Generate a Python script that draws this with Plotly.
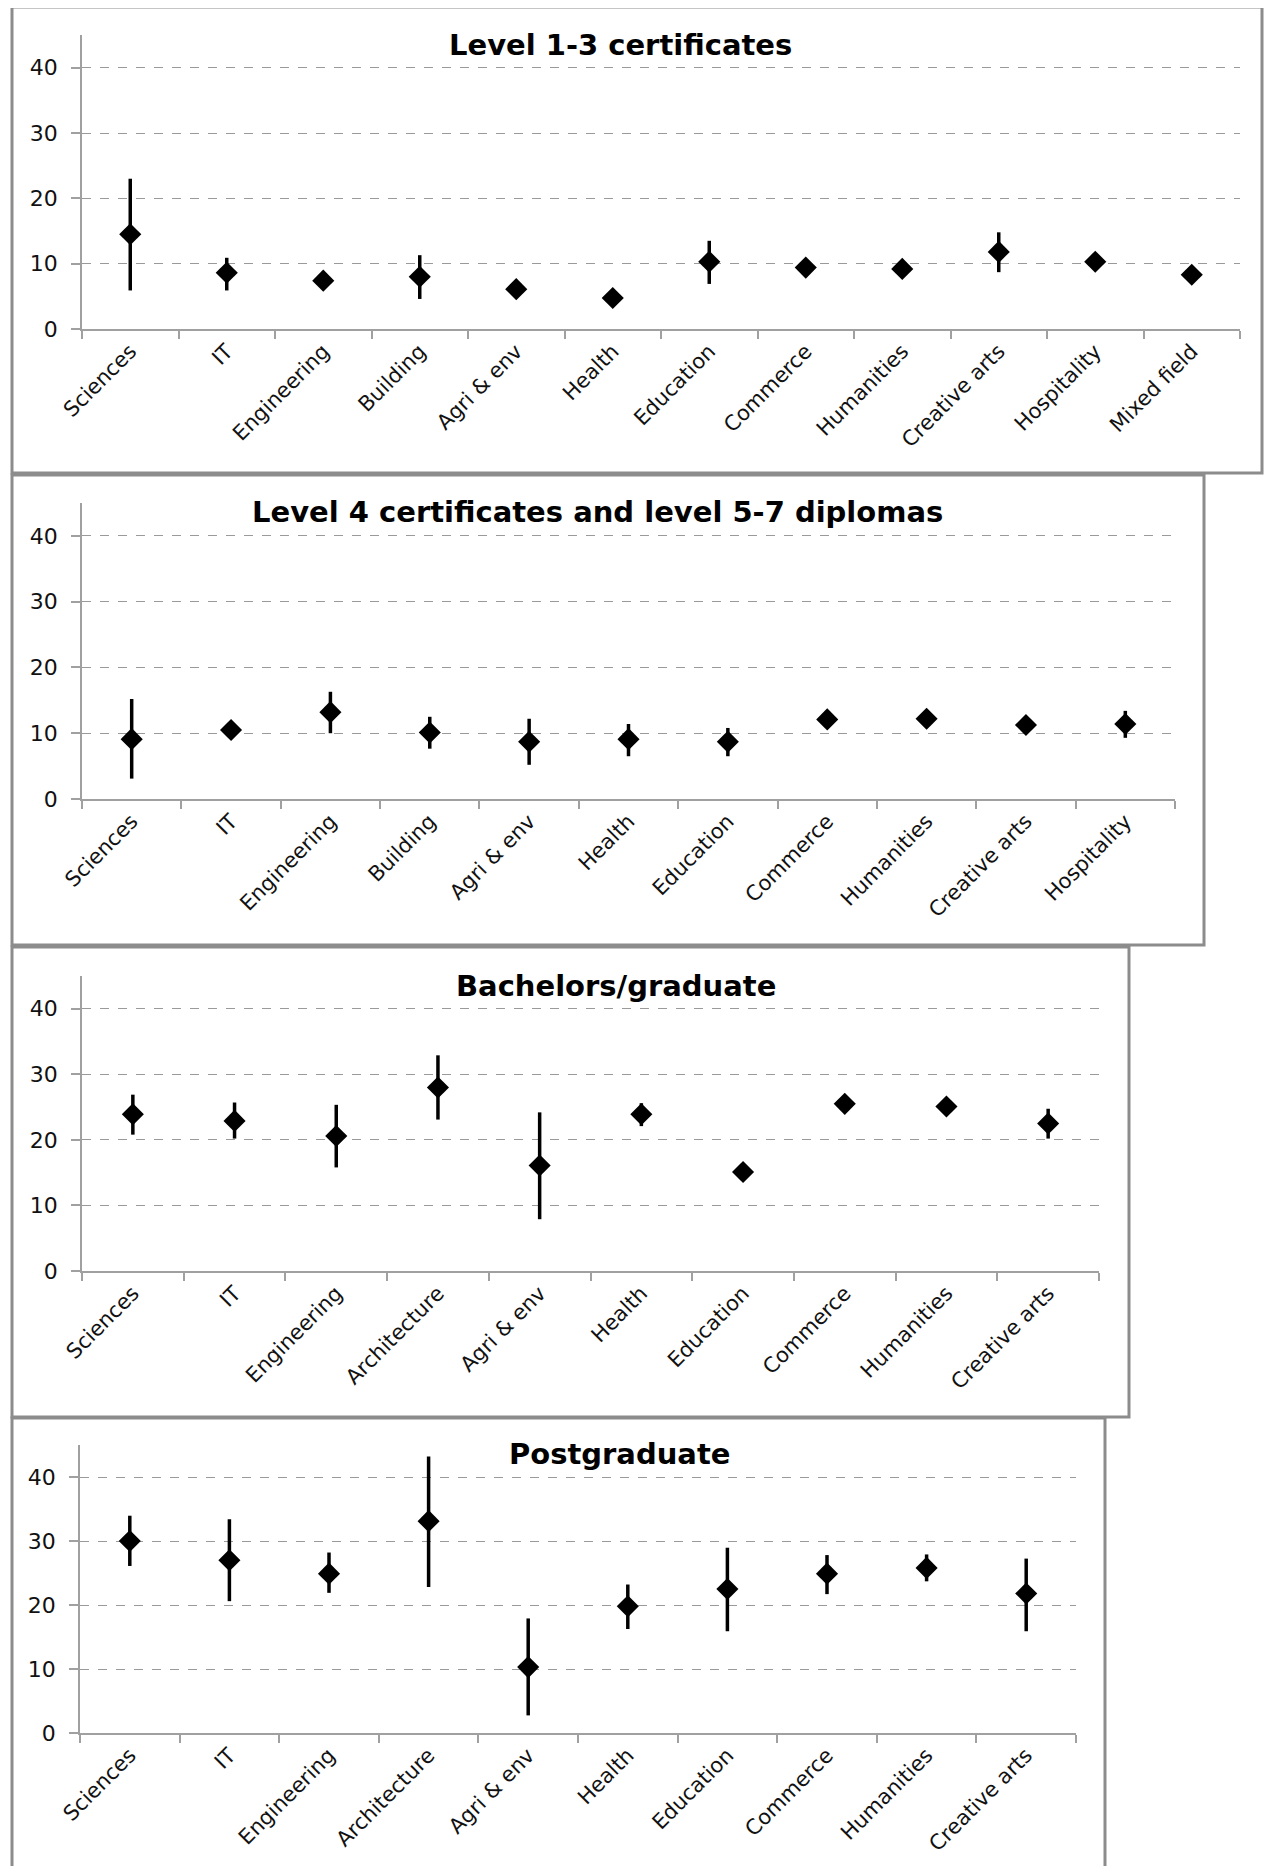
import plotly.graph_objects as go

# ---------------- data ----------------
titles = ["Level 1-3 certificates",
          "Level 4 certificates and level 5-7 diplomas",
          "Bachelors/graduate",
          "Postgraduate"]

cats1 = ["Sciences", "IT", "Engineering", "Building", "Agri & env", "Health",
         "Education", "Commerce", "Humanities", "Creative arts", "Hospitality", "Mixed field"]
val1 = [14.5, 8.6, 7.4, 8.0, 6.1, 4.75, 10.3, 9.4, 9.2, 11.8, 10.3, 8.3]
hi1 = [23.0, 10.9, 7.4, 11.3, 6.1, 4.75, 13.5, 9.4, 9.2, 14.8, 10.3, 8.3]
lo1 = [5.9, 5.9, 7.4, 4.6, 6.1, 4.75, 6.9, 9.4, 9.2, 8.7, 10.3, 8.3]

cats2 = ["Sciences", "IT", "Engineering", "Building", "Agri & env", "Health",
         "Education", "Commerce", "Humanities", "Creative arts", "Hospitality"]
val2 = [9.1, 10.5, 13.2, 10.1, 8.7, 9.1, 8.7, 12.1, 12.2, 11.25, 11.4]
hi2 = [15.2, 10.5, 16.3, 12.5, 12.2, 11.4, 10.8, 12.1, 12.2, 11.25, 13.4]
lo2 = [3.1, 10.5, 10.0, 7.65, 5.2, 6.5, 6.5, 12.1, 12.2, 11.25, 9.3]

cats3 = ["Sciences", "IT", "Engineering", "Architecture", "Agri & env", "Health",
         "Education", "Commerce", "Humanities", "Creative arts"]
val3 = [23.9, 22.9, 20.6, 28.0, 16.1, 23.9, 15.1, 25.5, 25.1, 22.5]
hi3 = [26.9, 25.7, 25.35, 32.9, 24.2, 25.6, 15.1, 25.5, 25.1, 24.75]
lo3 = [20.8, 20.2, 15.8, 23.1, 7.9, 22.1, 15.1, 25.5, 25.1, 20.2]

cats4 = ["Sciences", "IT", "Engineering", "Architecture", "Agri & env", "Health",
         "Education", "Commerce", "Humanities", "Creative arts"]
val4 = [30.0, 27.0, 24.9, 33.1, 10.3, 19.8, 22.5, 24.9, 25.8, 21.8]
hi4 = [33.95, 33.4, 28.2, 43.2, 17.9, 23.2, 28.95, 27.8, 27.9, 27.25]
lo4 = [26.1, 20.6, 21.9, 22.8, 2.75, 16.25, 15.9, 21.7, 23.7, 15.9]

y_ticks = [0, 10, 20, 30, 40]
y_max = 45

# ---------------- layout (pixels in the page) ----------------
OFF = 8  # default body margin of the html page
W, H = 1272 - 2 * OFF, 1874 - 2 * OFF
# plot areas: x0, x1, ytop, ybottom
areas = [(82, 1240, 35, 329),
         (82, 1175, 503, 799),
         (82, 1099, 976, 1271),
         (80, 1076, 1445, 1733)]
# outer boxes: x0, x1, y0, y1
boxes = [(12, 1262, 7, 473),
         (12, 1204, 475, 945),
         (12, 1129, 947, 1417),
         (12, 1105, 1418, 1890)]
title_pos = [(620, 45), (597, 512), (616, 986), (619, 1454)]


def px(x):
    return (x - OFF) / W


def py(y):
    return 1 - (y - OFF) / H


panels = [(cats1, val1, hi1, lo1), (cats2, val2, hi2, lo2),
          (cats3, val3, hi3, lo3), (cats4, val4, hi4, lo4)]

fig = go.Figure()
FONT = "DejaVu Sans"
AXCOL = "#a0a0a0"

shapes = []
annotations = []
for i, ((cats, vals, hi, lo), (x0, x1, yt, yb), box, tp, title) in enumerate(
        zip(panels, areas, boxes, title_pos, titles)):
    k = "" if i == 0 else str(i + 1)
    fig.add_trace(go.Scatter(
        x=cats, y=vals, mode="markers",
        xaxis="x" + k, yaxis="y" + k,
        marker=dict(symbol="diamond", size=17, color="black"),
        error_y=dict(type="data", symmetric=False,
                     array=[h - v for h, v in zip(hi, vals)],
                     arrayminus=[v - l for v, l in zip(vals, lo)],
                     color="black", thickness=3.5, width=0),
        showlegend=False, hoverinfo="x+y"))
    fig.update_layout(**{
        "xaxis" + k: dict(domain=[px(x0), px(x1)], anchor="y" + k,
                          type="category", tickson="boundaries",
                          ticks="outside", ticklen=8, tickcolor=AXCOL, tickwidth=1.5,
                          showline=True, linecolor=AXCOL, linewidth=1.5,
                          showgrid=False, tickangle=-45, automargin=False,
                          tickfont=dict(family=FONT, size=21, color="#111111"),
                          range=[-0.5, len(cats) - 0.5], fixedrange=True),
        "yaxis" + k: dict(domain=[py(yb), py(yt)], anchor="x" + k,
                          range=[0, y_max], tickvals=y_ticks,
                          ticks="outside", ticklen=9, tickcolor=AXCOL, tickwidth=1.5,
                          ticklabelstandoff=9,
                          showline=True, linecolor=AXCOL, linewidth=1.5,
                          showgrid=True, gridcolor="#9a9a9a", griddash="dash",
                          gridwidth=1, zeroline=False, automargin=False,
                          tickfont=dict(family=FONT, size=22, color="#111111"),
                          fixedrange=True),
    })
    bx0, bx1, by0, by1 = box
    shapes.append(dict(type="rect", xref="paper", yref="paper",
                       x0=px(bx0), x1=px(bx1), y0=py(by1), y1=py(by0),
                       line=dict(color="#8c8c8c", width=3), fillcolor="rgba(0,0,0,0)",
                       layer="below"))
    annotations.append(dict(text="<b>" + title + "</b>", xref="paper", yref="paper",
                            x=px(tp[0]), y=py(tp[1]), xanchor="center", yanchor="middle",
                            showarrow=False,
                            font=dict(family=FONT, size=29, color="black")))

fig.update_layout(width=W, height=H, margin=dict(l=0, r=0, t=0, b=0, autoexpand=False),
                  paper_bgcolor="white", plot_bgcolor="rgba(0,0,0,0)",
                  shapes=shapes, annotations=annotations, showlegend=False)

fig.write_html("out.html")
